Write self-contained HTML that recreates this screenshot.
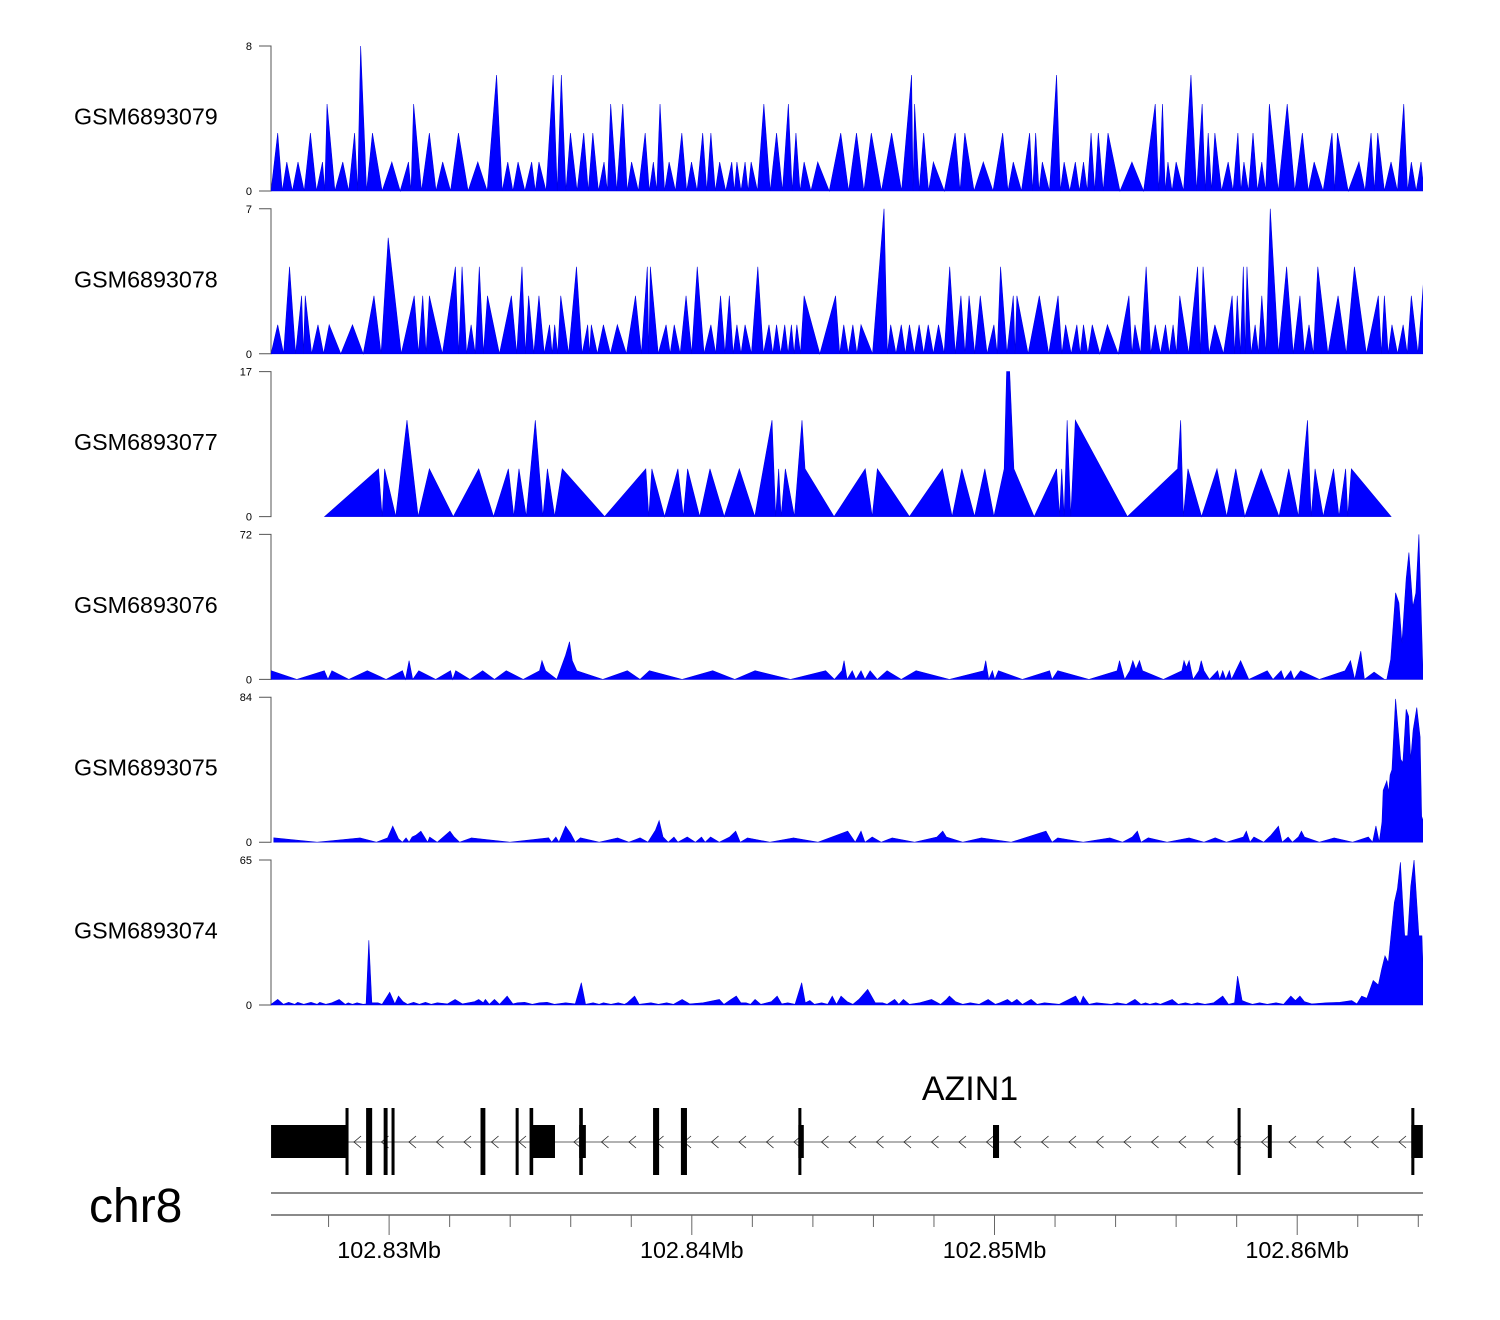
<!DOCTYPE html>
<html>
<head>
<meta charset="utf-8">
<style>
  html, body { margin:0; padding:0; background:#fff; }
  body { width:1500px; height:1320px; overflow:hidden; }
  svg { display:block; font-family:"Liberation Sans", Arial, sans-serif; }
</style>
</head>
<body>
<svg id="chart" width="1500" height="1320" viewBox="0 0 1500 1320" xmlns="http://www.w3.org/2000/svg">
  <g id="tracks"></g>
  <g id="gene"></g>
  <g id="axis"></g>
</svg>
<script>
// ---------- data (positions in kb relative to region start 102,825.9 kb) ----------
const trackNames = ["GSM6893079","GSM6893078","GSM6893077","GSM6893076","GSM6893075","GSM6893074"];
const trackMax = [8, 7, 17, 72, 84, 65];
const trackPeakMode = [true, true, false, false, false, false];

const t1Pos = [0.42,0.72,1.09,1.50,1.90,2.05,2.57,2.96,3.16,3.55,4.19,4.74,4.91,5.43,5.87,6.39,7.03,7.65,8.02,8.36,8.81,9.05,9.52,9.79,10.09,10.53,10.83,11.20,11.42,11.82,12.11,12.56,12.83,13.05,13.35,13.77,14.09,14.46,14.73,15.02,15.42,15.59,15.86,16.06,16.48,16.90,17.29,17.54,17.81,18.26,19.02,19.54,20.03,20.70,21.36,21.46,21.76,22.08,22.80,23.12,23.73,24.37,24.72,25.26,25.46,25.68,26.15,26.40,26.77,27.04,27.29,27.53,27.85,28.64,29.41,29.65,29.83,30.10,30.59,30.96,31.16,31.38,31.82,32.14,32.34,32.64,32.93,33.18,33.77,34.27,34.66,35.25,35.43,36.14,36.54,36.76,37.20,37.62,37.87,38.19,38.39];
const t1Val = [3.2,1.6,1.6,3.2,1.6,4.8,1.6,3.2,8,3.2,1.6,1.6,4.8,3.2,1.6,3.2,1.6,6.4,1.6,1.6,1.6,1.6,6.4,6.4,3.2,3.2,3.2,1.6,4.8,4.8,1.6,3.2,1.6,4.8,1.6,3.2,1.6,3.2,3.2,1.6,1.6,1.6,1.6,1.6,4.8,3.2,4.8,3.2,1.6,1.6,3.2,3.2,3.2,3.2,6.4,4.8,3.2,1.6,3.2,3.2,1.6,3.2,1.6,3.2,3.2,1.6,6.4,1.6,1.6,1.6,3.2,3.2,3.2,1.6,4.8,4.8,1.6,1.6,6.4,4.8,3.2,3.2,1.6,3.2,1.6,3.2,1.6,4.8,4.8,3.2,1.6,3.2,3.2,1.6,3.2,3.2,1.6,4.8,1.6,1.6,3.2];

const t2Pos = [0.42,0.81,1.21,1.33,1.75,2.12,2.89,3.60,4.07,4.93,5.21,5.43,6.29,6.51,6.81,7.08,7.35,8.14,8.49,8.71,9.05,9.40,9.57,9.77,10.29,10.66,10.78,11.18,11.64,12.24,12.63,12.73,13.25,13.52,13.91,14.28,14.73,15.05,15.34,15.59,15.86,16.28,16.65,16.90,17.17,17.39,17.57,17.81,18.85,19.12,19.42,19.69,20.45,20.67,21.02,21.29,21.61,21.91,22.25,22.62,22.99,23.26,23.63,24.08,24.30,24.72,24.84,25.58,26.20,26.45,26.82,27.04,27.33,27.83,28.54,28.74,29.11,29.41,29.75,30.00,30.22,30.81,30.99,31.38,31.95,32.12,32.32,32.44,32.71,32.93,33.21,33.75,34.19,34.49,34.78,35.45,35.99,36.78,36.98,37.23,37.60,37.87,38.31];
const t2Val = [1.4,4.2,2.8,2.8,1.4,1.4,1.4,2.8,5.6,2.8,2.8,2.8,4.2,4.2,1.4,4.2,2.8,2.8,4.2,2.8,2.8,1.4,1.4,2.8,4.2,1.4,1.4,1.4,1.4,2.8,4.2,4.2,1.4,1.4,2.8,4.2,1.4,2.8,2.8,1.4,1.4,4.2,1.4,1.4,1.4,1.4,1.4,2.8,2.8,1.4,1.4,1.4,7,1.4,1.4,1.4,1.4,1.4,1.4,4.2,2.8,2.8,2.8,1.4,4.2,2.8,2.8,2.8,2.8,1.4,1.4,1.4,1.4,1.4,2.8,1.4,4.2,1.4,1.4,1.4,2.8,4.2,4.2,1.4,2.8,2.8,4.2,4.2,1.4,2.8,7,4.2,2.8,1.4,4.2,2.8,4.2,2.8,2.8,1.4,1.4,2.8,4.2];

const t3Pos = [1.97,3.75,3.87,3.95,4.32,4.69,5.06,5.43,6.22,7.06,7.55,8.04,8.22,8.39,8.63,8.93,9.18,9.33,9.57,9.82,11.22,12.58,12.68,12.78,13.20,13.64,13.82,13.96,14.36,14.70,15.17,15.67,16.18,16.75,16.87,16.97,17.05,17.19,17.49,17.74,17.84,18.80,19.83,20.06,20.23,21.29,22.38,22.70,23.02,23.44,23.78,24.08,24.42,24.50,24.60,24.74,25.41,26.15,26.25,26.32,26.40,26.50,26.62,26.77,28.49,30.15,30.25,30.34,30.49,30.94,31.45,31.77,32.07,32.37,32.91,33.50,33.82,34.14,34.44,34.56,34.69,34.96,35.30,35.48,35.70,35.77,35.89,37.20];
const t3Val = [0,5.6,0,5.6,0,11.3,0,5.6,0,5.6,0,5.6,0,5.6,0,11.3,0,5.6,0,5.6,0,5.6,0,5.6,0,5.6,0,5.6,0,5.6,0,5.6,0,11.3,0,5.6,0,5.6,0,11.3,5.6,0,5.6,0,5.6,0,5.6,0,5.6,0,5.6,0,5.6,17,17,5.6,0,5.6,0,5.6,0,11.3,0,11.3,0,5.6,11.3,0,5.6,0,5.6,0,5.6,0,5.6,0,5.6,0,11.3,0,5.6,0,5.6,0,5.6,0,5.6,0];

const t4Pos = [0.20,1.05,1.96,2.08,2.21,2.77,3.38,4.00,4.54,4.64,4.76,4.88,5.08,5.64,6.13,6.20,6.30,6.77,7.19,7.58,7.97,8.53,9.07,9.15,9.27,9.64,9.93,10.06,10.15,10.30,11.16,11.97,12.39,12.70,13.78,14.79,15.52,16.19,17.36,18.52,18.81,19.06,19.13,19.23,19.40,19.52,19.69,19.82,19.99,20.23,20.55,21.02,21.51,22.61,23.74,23.81,23.91,24.03,24.11,24.23,25.02,25.92,26.00,26.19,27.22,28.15,28.23,28.40,28.57,28.67,28.77,28.89,28.99,29.68,30.29,30.36,30.44,30.53,30.66,30.85,30.93,31.02,31.20,31.47,31.54,31.64,31.74,31.86,31.93,32.23,32.50,33.11,33.30,33.57,33.67,33.89,33.99,34.21,34.83,35.68,35.86,36.00,36.20,36.32,36.64,36.98,37.06,37.19,37.35,37.46,37.56,37.70,37.79,37.92,38.02,38.12,38.25];
const t4Val = [4.3,0,4.3,0,4.3,0,4.3,0,4.3,0,9.3,0,4.3,0,4.3,0,4.3,0,4.3,0,4.3,0,4.3,9.3,4.3,0,12,18.7,9.3,4.3,0,4.3,0,4.3,0,4.3,0,4.3,0,4.3,0,4.3,9.3,0,4.3,0,4.3,0,4.3,0,4.3,0,4.3,0,4.3,9.3,0,4.3,0,4.3,0,4.3,0,4.3,0,4.3,9.3,0,4.3,9.3,5,9.3,4.3,0,4.3,9.3,6,9.3,0,4.3,9.3,4.3,0,4.3,0,4.3,0,4.3,0,9.3,0,4.3,0,4.3,0,4.3,0,4.3,0,4.3,9.3,0,14,0,3.6,0,0,10,43,38,18,50,63,36,43,72,5];

const t5Pos = [0.29,1.72,3.14,3.68,4.05,4.22,4.41,4.54,4.66,4.76,4.86,4.98,5.15,5.27,5.37,5.44,5.69,5.89,6.11,6.25,6.43,6.82,8.09,9.37,9.47,9.61,9.71,9.93,10.10,10.25,10.42,11.04,11.65,12.02,12.39,12.65,12.90,13.02,13.15,13.32,13.51,13.64,13.95,14.22,14.42,14.54,14.72,15.01,15.35,15.55,15.70,15.94,16.68,17.46,18.27,19.25,19.50,19.69,19.82,20.06,20.36,20.72,21.46,22.20,22.39,22.51,23.05,23.67,24.65,25.80,26.00,26.19,27.03,27.91,28.33,28.65,28.82,28.94,29.18,29.80,30.53,31.02,31.39,31.76,32.32,32.42,32.54,32.67,32.99,33.23,33.48,33.60,33.80,33.94,34.14,34.24,34.34,34.83,35.32,35.93,36.45,36.59,36.70,36.81,36.90,36.94,37.06,37.12,37.17,37.23,37.35,37.52,37.59,37.70,37.78,37.85,37.93,38.05,38.16,38.21,38.25];
const t5Val = [2.5,0,2.5,0,2.5,9.3,2,0,2.5,0,3,4,6.4,3,0,3,0,3,6.4,3,0,2.5,0,2.5,0,3,0,9.3,5,0,2.5,0,2.5,0,2.5,0,7,12.5,3,0,3,0,3,0,3,0,3,0,3,6.4,0,2.5,0,2.5,0,6.4,0,6.4,0,3,0,2.5,0,3,6.4,3,0,2.5,0,6.4,0,2.5,0,2.5,0,3,6.4,0,2.5,0,2.5,0,2.5,0,3,6.4,0,3,0,4,9.3,0,3,0,3,6.4,3,0,2.5,0,3,0,9.4,0,11.5,30,35.5,29,39,42,83,48,46,77,73,48,65,78,61,15,13];

const t6Pos = [0.20,0.42,0.61,0.78,0.98,1.08,1.28,1.52,1.72,1.81,2.01,2.21,2.45,2.65,2.75,2.89,3.04,3.24,3.34,3.43,3.53,3.73,3.87,4.12,4.29,4.41,4.56,4.71,4.91,5.10,5.30,5.49,5.69,6.03,6.28,6.52,6.92,7.06,7.21,7.28,7.41,7.58,7.75,8.00,8.19,8.34,8.58,8.83,9.07,9.32,9.56,9.93,10.25,10.45,10.59,10.84,11.04,11.18,11.43,11.67,11.87,11.97,12.21,12.36,12.75,13.00,13.27,13.49,13.78,14.03,14.47,15.01,15.16,15.40,15.57,15.72,15.89,16.04,16.19,16.38,16.73,16.92,17.07,17.27,17.51,17.73,17.85,18.00,18.15,18.39,18.59,18.74,18.88,19.03,19.23,19.42,19.62,19.91,20.16,20.40,20.55,20.80,20.94,21.09,21.29,21.63,22.02,22.32,22.51,22.61,22.81,23.05,23.30,23.59,23.89,24.13,24.28,24.53,24.67,24.84,25.02,25.31,25.51,25.75,26.24,26.78,26.93,27.03,27.22,27.47,27.96,28.15,28.45,28.74,28.94,29.09,29.23,29.43,29.58,29.97,30.17,30.41,30.61,30.80,31.05,31.34,31.64,31.83,32.03,32.13,32.28,32.42,32.62,32.86,33.11,33.40,33.65,33.89,34.04,34.19,34.34,34.58,35.07,35.51,35.90,36.07,36.23,36.40,36.61,36.78,36.89,37.00,37.11,37.22,37.31,37.41,37.51,37.58,37.65,37.75,37.85,37.96,38.12,38.22,38.25];
const t6Val = [0.3,2.5,0.3,1.2,0.3,1.2,0.3,1.2,0.3,1.2,0.3,1,2.5,0.3,1,0.3,1,0.3,0.5,29,1,1,0.3,5.7,0.5,4,1.5,0.3,1.2,0.3,1.2,0.3,1,0.5,2.5,0.5,1.5,2.5,1,2.5,0.3,2.5,0.3,4,0.5,1,1.2,0.3,1,1.2,0.3,1,0.5,10,0.3,1,0.3,1,0.3,1,0.3,1,4,0.3,1,0.3,1,0.3,2.5,0.5,1,2.5,0.3,2.5,4,1,1,0.3,2.5,0.3,1.5,4,0.5,1,0.3,10,1,2,0.3,1,0.3,4,0.3,4,1.5,0.3,2.5,7,1,1,0.3,2.5,0.3,2.5,0.3,1,2.5,0.3,2.5,4,1.5,0.3,1,0.3,2.5,0.3,1,2.5,1,2.5,0.3,2.5,0.3,1,0.3,4,0.5,4,0.3,1,0.3,1,0.3,2.5,0.3,1,0.3,1,0.3,2.5,0.3,1,0.3,1,0.3,1,4,0.3,1,13,2,1.2,0.3,1,0.3,1,0.3,4,2,4,1.5,0.5,1,1.2,2,0.5,4,3,11,9,16,22,19,34,46,52,64,47,31,31,53,65,31,31,19];

const exonStart = [0.20,2.66,3.34,3.92,4.18,7.12,8.28,8.74,8.79,10.38,10.38,12.82,13.74,17.62,17.62,24.05,32.13,33.13,37.87,37.87];
const exonEnd   = [2.71,2.76,3.54,4.05,4.28,7.28,8.38,8.86,9.58,10.50,10.60,13.02,13.94,17.72,17.80,24.25,32.23,33.26,37.97,38.25];
const exonType  = ["mid","tall","tall","tall","tall","tall","tall","tall","mid","tall","mid","tall","tall","tall","mid","mid","tall","mid","tall","mid"];
const geneName = "AZIN1";
const geneStartKb = 2.71, geneEndKb = 37.92;

const regionStartKb = 102825.9;
const axisTicksKb = [102828,102830,102832,102834,102836,102838,102840,102842,102844,102846,102848,102850,102852,102854,102856,102858,102860,102862,102864];
const majorTickLabels = {102830:"102.83Mb",102840:"102.84Mb",102850:"102.85Mb",102860:"102.86Mb"};
const chromName = "chr8";

// ---------- drawing ----------
const NS = "http://www.w3.org/2000/svg";
const PX_PER_KB = 30.27, X0 = 265, PLOT_L = 271, PLOT_R = 1422;
const TRACK_TOP0 = 46, TRACK_STEP = 162.8, TRACK_H = 145;
function xScale(kb){ return X0 + kb*PX_PER_KB; }
function mk(tag, attrs, parent){ const e=document.createElementNS(NS,tag); for(const k in attrs) e.setAttribute(k,attrs[k]); parent.appendChild(e); return e; }

const svg = document.getElementById("chart");
const defs = mk("defs",{},svg);
const cp = mk("clipPath",{id:"plotclip"},defs);
mk("rect",{x:PLOT_L,y:0,width:PLOT_R-PLOT_L+1,height:1320},cp);

const tracksG = document.getElementById("tracks");
const allPos = [t1Pos,t2Pos,t3Pos,t4Pos,t5Pos,t6Pos];
const allVal = [t1Val,t2Val,t3Val,t4Val,t5Val,t6Val];

for (let i=0;i<6;i++){
  const top = TRACK_TOP0 + i*TRACK_STEP, base = top + TRACK_H;
  const yScale = v => base - v/trackMax[i]*TRACK_H;
  const g = mk("g",{},tracksG);
  
  

  const lbl = mk("text",{x:74,y:top+TRACK_H/2+6,"font-size":"23.3",fill:"#000"},g);
  lbl.textContent = trackNames[i];
  
  

  const ax = mk("path",{d:`M259,${top}H${PLOT_L}V${base}H259`,fill:"none",stroke:"#555","stroke-width":1},g);
  
  
  const tTop = mk("text",{x:252,y:top+4,"font-size":"11","text-anchor":"end",fill:"#000"},g);
  tTop.textContent = String(trackMax[i]);
  
  
  const tBot = mk("text",{x:252,y:base+4,"font-size":"11","text-anchor":"end",fill:"#000"},g);
  tBot.textContent = "0";
  
  

  const pos = allPos[i], val = allVal[i];
  const pts = [];
  if (trackPeakMode[i]) {
    pts.push([0.2,0]);
    for (let j=0;j<pos.length;j++){
      if (j>0) pts.push([(pos[j-1]+pos[j])/2,0]);
      pts.push([pos[j],val[j]]);
    }
    pts.push([38.25,0]);
  } else {
    pts.push([pos[0],0]);
    for (let j=0;j<pos.length;j++) pts.push([pos[j],val[j]]);
    pts.push([pos[pos.length-1],0]);
  }
  let d = "";
  pts.forEach((p,k)=>{ d += (k?"L":"M") + xScale(p[0]).toFixed(2) + "," + yScale(p[1]).toFixed(2); });
  d += "Z";
  const area = mk("path",{d:d,fill:"#0000ff",stroke:"#0000e0","stroke-width":0.6,"stroke-linejoin":"miter","clip-path":"url(#plotclip)"},g);
  
  
}

// gene track
const geneG = document.getElementById("gene");
const INTRON_Y = 1142;
const intron = mk("line",{x1:xScale(geneStartKb),x2:xScale(geneEndKb),y1:INTRON_Y,y2:INTRON_Y,stroke:"#999","stroke-width":1.5},geneG);


for (let x = xScale(geneStartKb)+10; x < xScale(geneEndKb)-4; x += 27.5){
  const ch = mk("path",{d:`M${x+4},${INTRON_Y-6}L${x-3},${INTRON_Y}L${x+4},${INTRON_Y+6}`,fill:"none",stroke:"#222","stroke-width":0.8},geneG);
  
  
}
for (let k=0;k<exonStart.length;k++){
  const tall = exonType[k]==="tall";
  const y0 = tall?1108:1125, y1 = tall?1175:1158;
  const x0 = xScale(exonStart[k]), x1 = xScale(exonEnd[k]);
  const r = mk("rect",{x:x0,y:y0,width:Math.max(2.5,x1-x0),height:y1-y0,fill:"#000"},geneG);
  
  
}
const gl = mk("text",{x:970,y:1100,"font-size":"34","text-anchor":"middle",fill:"#000"},geneG);
gl.textContent = geneName;



// genomic axis
const axG = document.getElementById("axis");
const l1 = mk("line",{x1:PLOT_L,x2:1423,y1:1193,y2:1193,stroke:"#444","stroke-width":1.2},axG);


const l2 = mk("line",{x1:PLOT_L,x2:1423,y1:1215,y2:1215,stroke:"#444","stroke-width":1.2},axG);


axisTicksKb.forEach(t=>{
  const x = X0 + (t-regionStartKb)*PX_PER_KB;
  const major = majorTickLabels[t]!==undefined;
  const tk = mk("line",{x1:x,x2:x,y1:1215,y2:major?1235:1227,stroke:"#666","stroke-width":1},axG);
  
  
  if (major){
    const tl = mk("text",{x:x,y:1258,"font-size":"23.3","text-anchor":"middle",fill:"#000"},axG);
    tl.textContent = majorTickLabels[t];
    
    
  }
});
const chr = mk("text",{x:89,y:1222,"font-size":"48",fill:"#000"},axG);
chr.textContent = chromName;


</script>
</body>
</html>
